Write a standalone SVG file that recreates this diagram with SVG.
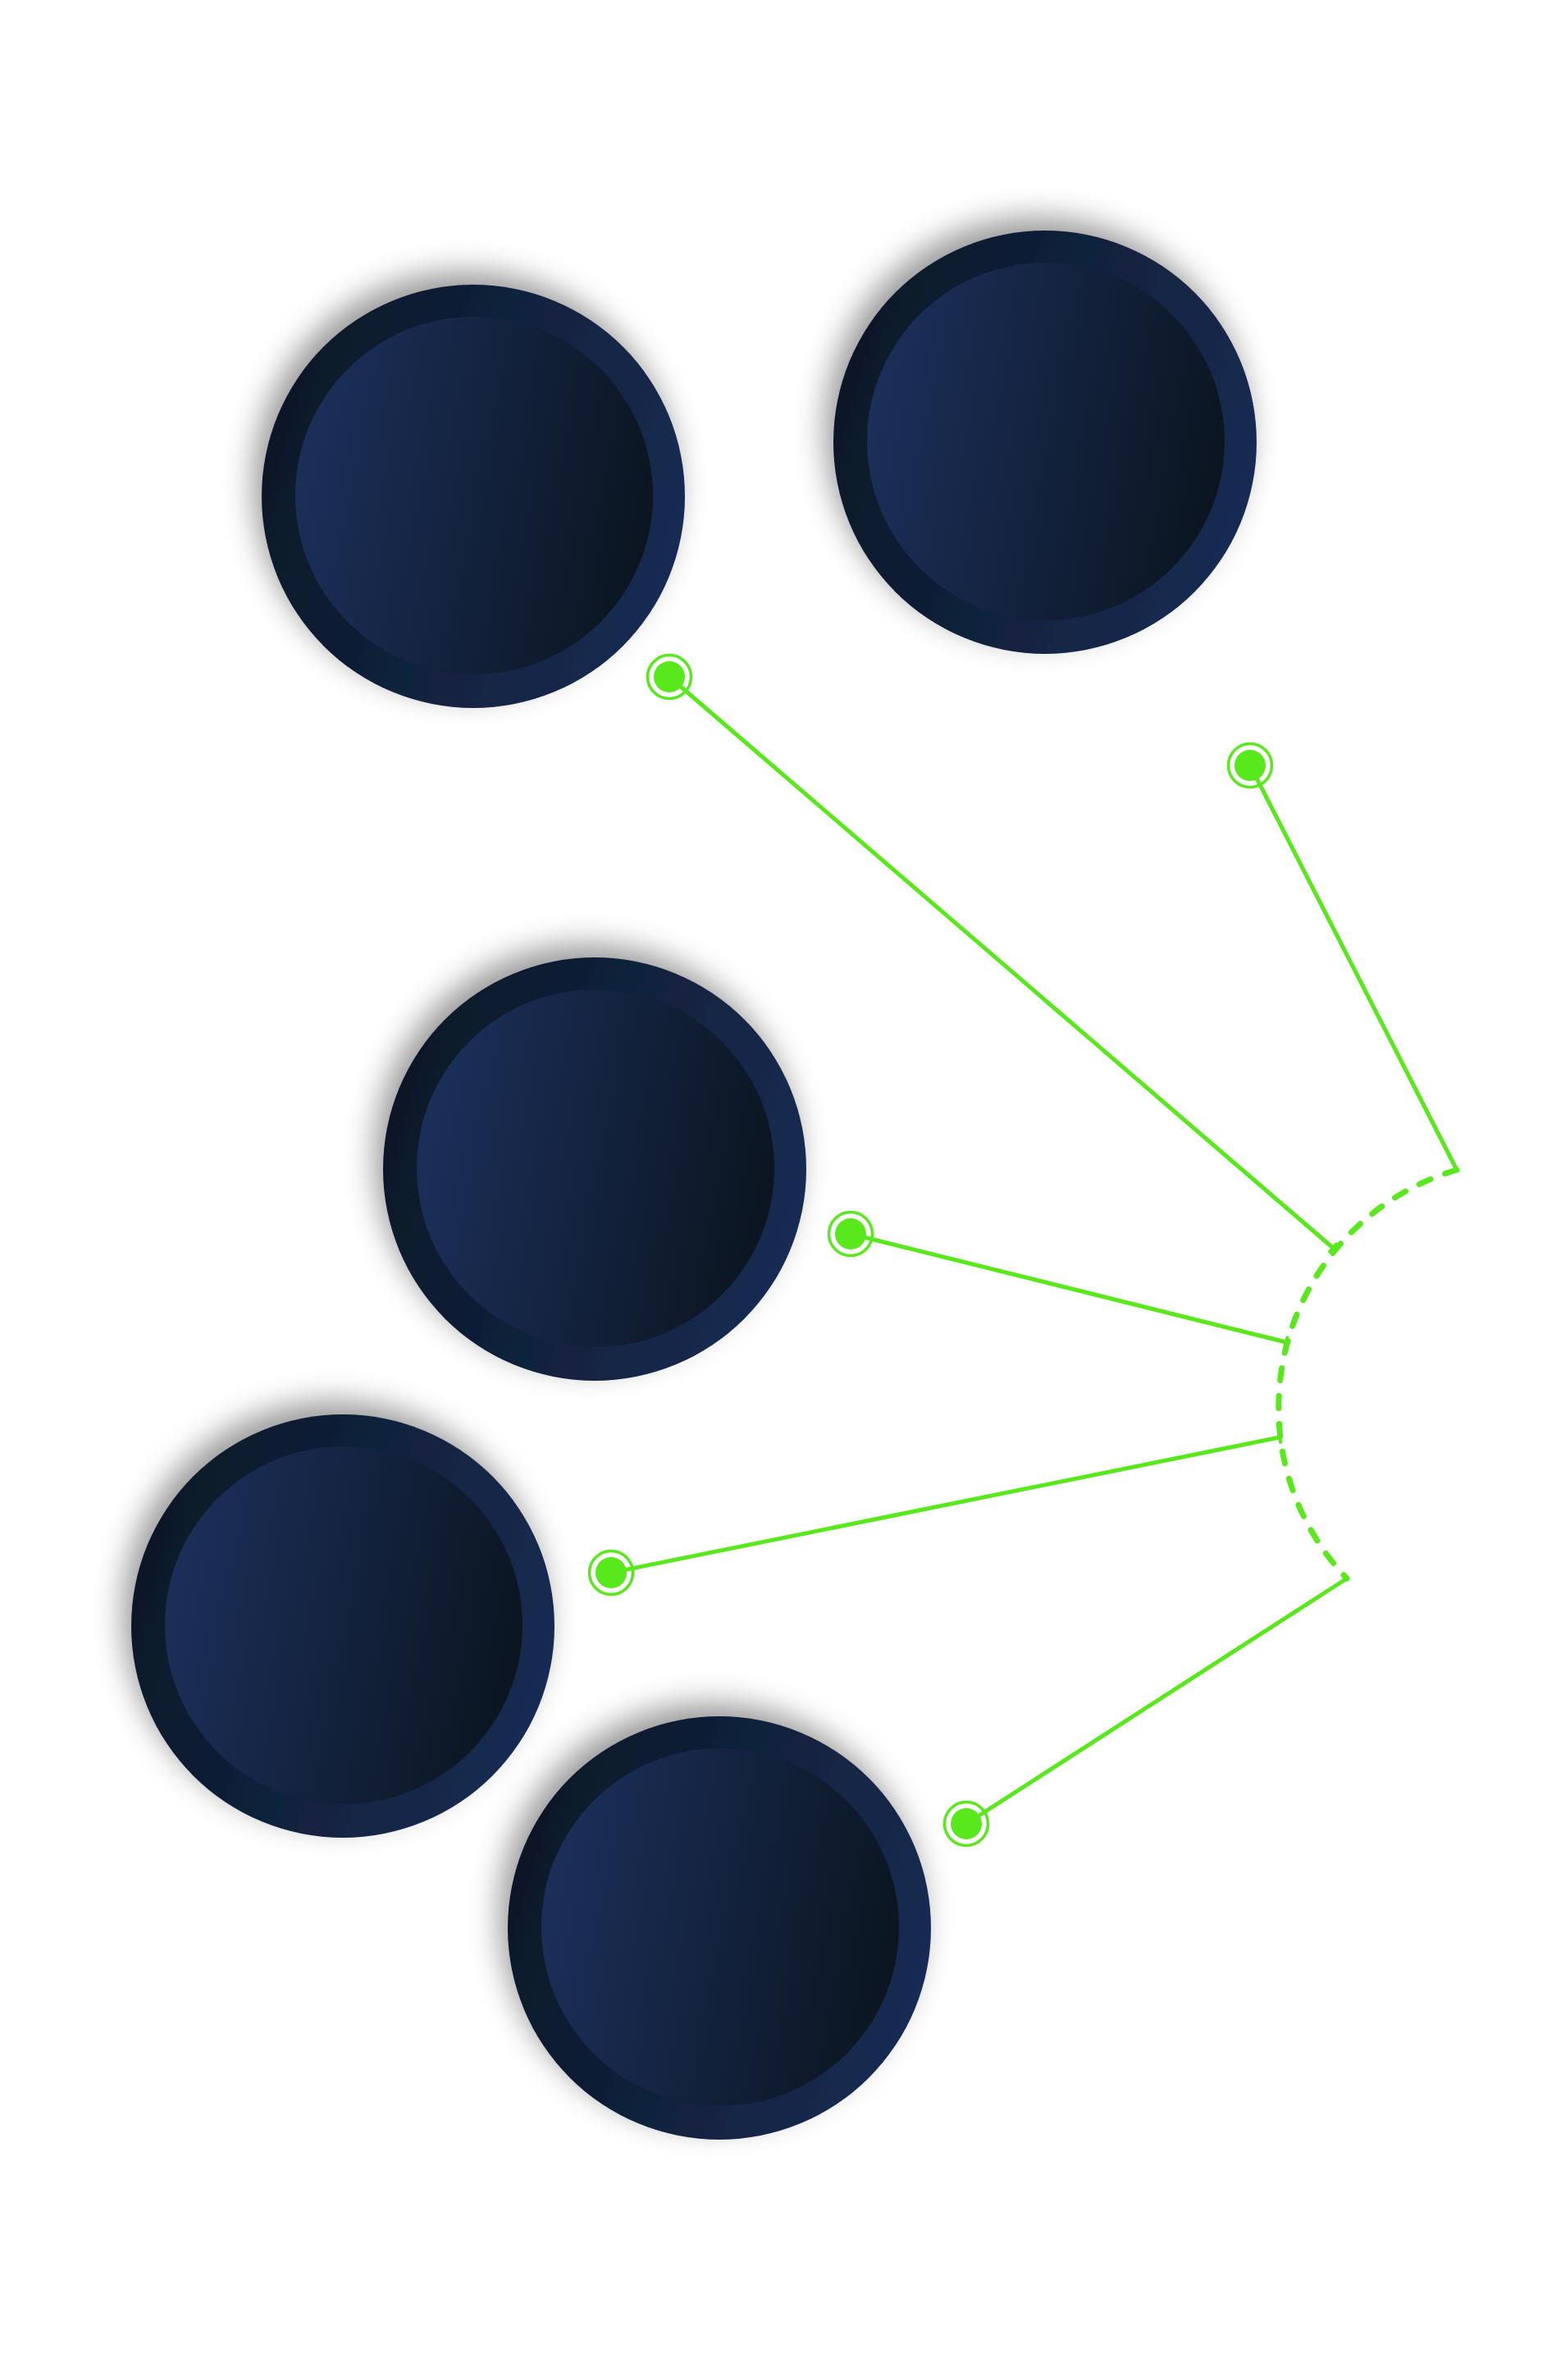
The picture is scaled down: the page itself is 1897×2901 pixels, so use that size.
<svg xmlns="http://www.w3.org/2000/svg" width="1897" height="2901" viewBox="0 0 1897 2901">
  <defs>
    <linearGradient id="gOuter" x1="0" y1="0.35" x2="1" y2="0.65">
      <stop offset="0" stop-color="#0c1826"/>
      <stop offset="1" stop-color="#172c54"/>
    </linearGradient>
    <linearGradient id="gInner" x1="0" y1="0.4" x2="1" y2="0.6">
      <stop offset="0" stop-color="#1b2f5a"/>
      <stop offset="1" stop-color="#0b1520"/>
    </linearGradient>
    <filter id="shadow" x="-40%" y="-40%" width="180%" height="180%">
      <feDropShadow dx="-10" dy="-16" stdDeviation="18" flood-color="#000" flood-opacity="0.4"/>
    </filter>
    <marker id="tick" viewBox="-8 -8 16 16" markerWidth="16" markerHeight="16" markerUnits="userSpaceOnUse" refX="0" refY="0" orient="auto">
      <path d="M0 -6 L0 6" stroke="#58e81c" stroke-width="4" stroke-linecap="round"/>
    </marker>
  </defs>
  <style>
    .outer { fill: url(#gOuter); filter: url(#shadow); }
    .inner { fill: url(#gInner); }
    .conn { stroke: #58e81c; stroke-width: 5; fill: none; stroke-linecap: round; }
    .arc { stroke: #58e81c; stroke-width: 7; fill: none; stroke-linecap: round; stroke-dasharray: 15 19; }
    .ring { fill: none; stroke: #58e81c; stroke-width: 3.5; }
    .dot { fill: #58e81c; }
  </style>
  <rect width="1897" height="2901" fill="#ffffff"/>

  <g id="node1"><circle class="outer" cx="577" cy="605" r="258"/><circle class="inner" cx="578" cy="604" r="218"/></g>
  <g id="node2"><circle class="outer" cx="1274" cy="539" r="258"/><circle class="inner" cx="1275" cy="538" r="218"/></g>
  <g id="node3"><circle class="outer" cx="725" cy="1425" r="258"/><circle class="inner" cx="726" cy="1424" r="218"/></g>
  <g id="node4"><circle class="outer" cx="418" cy="1982" r="258"/><circle class="inner" cx="419" cy="1981" r="218"/></g>
  <g id="node5"><circle class="outer" cx="877" cy="2350" r="258"/><circle class="inner" cx="878" cy="2349" r="218"/></g>

  <g id="connectors">
    <path class="arc" d="M1776 1426 A302 302 0 0 0 1642 1924"/>
    <line class="conn" x1="816" y1="825" x2="1625" y2="1521" marker-end="url(#tick)"/>
    <line class="conn" x1="1524" y1="933" x2="1776" y2="1426"/>
    <line class="conn" x1="1037" y1="1504" x2="1568" y2="1636" marker-end="url(#tick)"/>
    <line class="conn" x1="745" y1="1917" x2="1560" y2="1752" marker-end="url(#tick)"/>
    <line class="conn" x1="1178" y1="2223" x2="1642" y2="1924"/>
    <g id="pin1"><circle class="ring" cx="816" cy="825" r="26.5"/><circle class="dot" cx="816" cy="825" r="19"/></g>
    <g id="pin2"><circle class="ring" cx="1524" cy="933" r="26.5"/><circle class="dot" cx="1524" cy="933" r="19"/></g>
    <g id="pin3"><circle class="ring" cx="1037" cy="1504" r="26.5"/><circle class="dot" cx="1037" cy="1504" r="19"/></g>
    <g id="pin4"><circle class="ring" cx="745" cy="1917" r="26.5"/><circle class="dot" cx="745" cy="1917" r="19"/></g>
    <g id="pin5"><circle class="ring" cx="1178" cy="2223" r="26.5"/><circle class="dot" cx="1178" cy="2223" r="19"/></g>
  </g>
</svg>
